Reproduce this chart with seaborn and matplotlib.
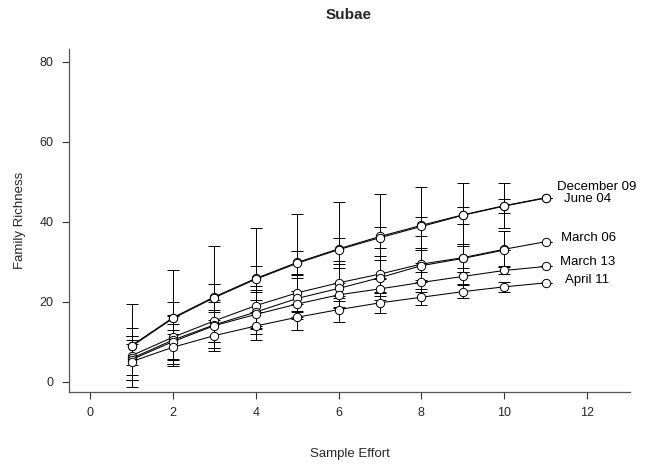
import numpy as np
import pandas as pd
import matplotlib
matplotlib.use("Agg")
import matplotlib.pyplot as plt
import seaborn as sns

# ---- data ----
effort = [1, 2, 3, 4, 5, 6, 7, 8, 9, 10, 11]
dec09 = [9.0, 16.0, 21.2, 25.8, 29.8, 33.2, 36.3, 39.1, 41.7, 44.0, 46.0]
dec09_sd = [10.3, 12.0, 12.8, 12.6, 12.2, 11.7, 10.7, 9.5, 7.9, 5.6, 0.0]
jun04 = [8.8, 15.8, 21.0, 25.6, 29.6, 33.0, 36.0, 38.8, 41.6, 43.9, 45.9]
jun04_sd = [4.6, 4.0, 3.5, 3.2, 3.0, 2.8, 2.6, 2.5, 2.2, 1.8, 0.0]
mar06 = [6.5, 11.1, 15.2, 19.0, 22.2, 24.7, 26.9, 29.4, 31.0, 33.1, 35.0]
mar06_sd = [4.8, 5.5, 5.2, 5.0, 4.8, 4.6, 4.4, 4.0, 3.5, 4.5, 0.0]
extra = [5.8, 10.4, 14.2, 17.4, 20.8, 23.3, 26.0, 29.0, 30.8, 32.9]
extra_sd = [5.5, 6.0, 5.8, 5.5, 5.2, 5.0, 4.5, 4.0, 3.5, 0.0]
mar13 = [5.5, 10.0, 14.0, 16.8, 19.4, 21.7, 23.2, 24.8, 26.3, 27.8, 28.8]
mar13_sd = [5.0, 4.5, 4.0, 3.5, 3.2, 3.0, 2.8, 2.5, 2.0, 1.0, 0.0]
apr11 = [5.0, 8.6, 11.5, 13.9, 16.1, 18.0, 19.7, 21.1, 22.5, 23.7, 24.7]
apr11_sd = [4.5, 4.2, 3.8, 3.5, 3.2, 3.0, 2.5, 2.0, 1.6, 1.2, 0.0]

series_names = ["December 09", "June 04", "March 06", "", "March 13", "April 11"]
series_vals = [dec09, jun04, mar06, extra, mar13, apr11]
series_sds = [dec09_sd, jun04_sd, mar06_sd, extra_sd, mar13_sd, apr11_sd]
label_x = [11.28, 11.45, 11.38, None, 11.36, 11.47]
label_y = [48.8, 45.8, 35.8, None, 29.8, 25.3]

sns.set_style("white")
plt.rcParams["font.family"] = ["Liberation Sans", "DejaVu Sans"]

rows = []
for i, (name, vals) in enumerate(zip(series_names, series_vals)):
    for x, v in zip(effort, vals):
        rows.append({"effort": x, "richness": v, "series": f"s{i}"})
df = pd.DataFrame(rows)

fig = plt.figure(figsize=(6.46, 4.68), dpi=100)
ax = fig.add_axes([69 / 646, 1 - 392 / 468, (630 - 69) / 646, (392 - 49) / 468])

# error bars
for vals, sds in zip(series_vals, series_sds):
    xs = effort[:len(vals)]
    ax.errorbar(xs, vals, yerr=sds, fmt="none", ecolor="black",
                elinewidth=0.7, capsize=4, capthick=0.7, zorder=2)

sns.lineplot(data=df, x="effort", y="richness", hue="series",
             palette=["black"] * len(series_names), lw=0.75,
             marker="o", markersize=6, markerfacecolor="white",
             markeredgecolor="black", markeredgewidth=0.7,
             legend=False, ax=ax, zorder=3)

for name, lx, ly in zip(series_names, label_x, label_y):
    if name:
        ax.text(lx, ly, name, fontsize=9.5, ha="left", va="center", color="black")

ax.set_xlim(-0.51, 13.04)
ax.set_ylim(-2.6, 83.2)
ax.set_xticks([0, 2, 4, 6, 8, 10, 12])
ax.set_yticks([0, 20, 40, 60, 80])
for s in ["top", "right"]:
    ax.spines[s].set_visible(False)
for s in ["left", "bottom"]:
    ax.spines[s].set_color("#555555")
    ax.spines[s].set_linewidth(0.9)
ax.tick_params(axis="both", direction="out", length=5, width=0.8,
               color="#333333", labelsize=9, pad=6, bottom=True, left=True)
ax.set_xlabel("Sample Effort", fontsize=9.5, labelpad=21)
ax.set_ylabel("Family Richness", fontsize=9.5, labelpad=10)
fig.text(349 / 646, 1 - 15 / 468, "Subae", fontsize=11, fontweight="bold",
         ha="center", va="center")

fig.savefig("out.png", dpi=100)
